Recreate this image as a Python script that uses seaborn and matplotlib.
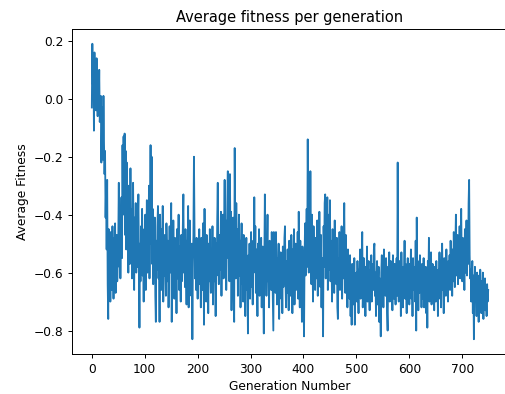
import numpy as np
import pandas as pd
import seaborn as sns
import matplotlib.pyplot as plt

# Average fitness, 25 generations per row
fitness = [
    -0.03, 0.19, 0.05, 0.15, -0.11, 0.16, 0.02, 0.12, -0.04, 0.14, 0.03, -0.06, 0.08, -0.02, 0.10, -0.08, -0.05, 0.01, -0.22, -0.10, -0.03, -0.21, 0.01, -0.15, -0.26,
    -0.18, -0.41, -0.30, -0.52, -0.28, -0.64, -0.76, -0.45, -0.62, -0.50, -0.70, -0.46, -0.58, -0.66, -0.44, -0.55, -0.69, -0.48, -0.60, -0.43, -0.67, -0.52, -0.47, -0.63, -0.56,
    -0.49, -0.29, -0.58, -0.38, -0.62, -0.45, -0.34, -0.55, -0.16, -0.40, -0.13, -0.28, -0.12, -0.47, -0.18, -0.52, -0.22, -0.35, -0.48, -0.60, -0.30, -0.44, -0.57, -0.24, -0.50,
    -0.38, -0.62, -0.45, -0.29, -0.55, -0.66, -0.41, -0.52, -0.36, -0.60, -0.47, -0.58, -0.42, -0.33, -0.54, -0.79, -0.50, -0.63, -0.44, -0.57, -0.38, -0.61, -0.49, -0.70, -0.45,
    -0.58, -0.40, -0.66, -0.52, -0.35, -0.60, -0.47, -0.55, -0.30, -0.62, -0.42, -0.16, -0.50, -0.20, -0.57, -0.38, -0.64, -0.45, -0.53, -0.41, -0.68, -0.77, -0.49, -0.59, -0.44,
    -0.37, -0.62, -0.51, -0.77, -0.40, -0.58, -0.66, -0.45, -0.55, -0.37, -0.70, -0.52, -0.61, -0.47, -0.57, -0.68, -0.43, -0.54, -0.63, -0.49, -0.72, -0.56, -0.44, -0.60, -0.51,
    -0.36, -0.77, -0.55, -0.64, -0.42, -0.58, -0.69, -0.48, -0.60, -0.53, -0.74, -0.45, -0.62, -0.56, -0.40, -0.66, -0.51, -0.59, -0.70, -0.47, -0.63, -0.55, -0.44, -0.33, -0.60,
    -0.52, -0.65, -0.45, -0.58, -0.71, -0.49, -0.61, -0.37, -0.72, -0.54, -0.42, -0.63, -0.57, -0.68, -0.50, -0.83, -0.56, -0.47, -0.20, -0.44, -0.62, -0.53, -0.66, -0.48, -0.58,
    -0.69, -0.51, -0.60, -0.45, -0.64, -0.55, -0.72, -0.48, -0.59, -0.66, -0.43, -0.57, -0.78, -0.38, -0.62, -0.53, -0.70, -0.47, -0.61, -0.56, -0.74, -0.50, -0.63, -0.45, -0.58,
    -0.67, -0.52, -0.60, -0.44, -0.71, -0.55, -0.63, -0.48, -0.58, -0.75, -0.50, -0.61, -0.42, -0.29, -0.56, -0.64, -0.47, -0.59, -0.53, -0.39, -0.68, -0.45, -0.57, -0.40, -0.62,
    -0.48, -0.28, -0.60, -0.42, -0.66, -0.51, -0.37, -0.25, -0.55, -0.44, -0.63, -0.26, -0.52, -0.39, -0.73, -0.47, -0.58, -0.41, -0.65, -0.77, -0.17, -0.50, -0.62, -0.36, -0.57,
    -0.45, -0.68, -0.53, -0.40, -0.61, -0.49, -0.72, -0.55, -0.43, -0.64, -0.58, -0.70, -0.47, -0.60, -0.52, -0.75, -0.56, -0.48, -0.66, -0.59, -0.81, -0.54, -0.62, -0.50, -0.69,
    -0.57, -0.46, -0.65, -0.53, -0.71, -0.49, -0.60, -0.34, -0.58, -0.44, -0.67, -0.52, -0.62, -0.75, -0.50, -0.59, -0.45, -0.68, -0.55, -0.63, -0.48, -0.72, -0.57, -0.51, -0.66,
    -0.81, -0.55, -0.33, -0.60, -0.47, -0.68, -0.52, -0.40, -0.63, -0.57, -0.72, -0.49, -0.61, -0.54, -0.66, -0.46, -0.58, -0.70, -0.80, -0.46, -0.62, -0.52, -0.67, -0.46, -0.59,
    -0.71, -0.55, -0.64, -0.50, -0.76, -0.58, -0.62, -0.53, -0.69, -0.57, -0.74, -0.51, -0.65, -0.60, -0.48, -0.44, -0.63, -0.72, -0.56, -0.67, -0.52, -0.60, -0.73, -0.49, -0.64,
    -0.55, -0.68, -0.47, -0.60, -0.74, -0.52, -0.63, -0.45, -0.71, -0.57, -0.50, -0.66, -0.54, -0.61, -0.46, -0.69, -0.39, -0.58, -0.72, -0.49, -0.64, -0.56, -0.77, -0.51, -0.60,
    -0.67, -0.82, -0.55, -0.43, -0.61, -0.50, -0.38, -0.58, -0.14, -0.45, -0.60, -0.36, -0.52, -0.25, -0.47, -0.64, -0.40, -0.55, -0.70, -0.44, -0.59, -0.51, -0.66, -0.48, -0.62,
    -0.54, -0.42, -0.68, -0.50, -0.61, -0.39, -0.57, -0.65, -0.47, -0.72, -0.55, -0.60, -0.82, -0.44, -0.58, -0.36, -0.33, -0.62, -0.48, -0.55, -0.34, -0.66, -0.51, -0.40, -0.59,
    -0.35, -0.63, -0.49, -0.57, -0.70, -0.45, -0.60, -0.53, -0.67, -0.42, -0.58, -0.51, -0.64, -0.48, -0.72, -0.76, -0.55, -0.61, -0.46, -0.66, -0.53, -0.59, -0.44, -0.69, -0.56,
    -0.62, -0.50, -0.36, -0.58, -0.67, -0.47, -0.61, -0.55, -0.72, -0.52, -0.64, -0.58, -0.69, -0.54, -0.75, -0.60, -0.78, -0.57, -0.66, -0.62, -0.71, -0.55, -0.78, -0.63, -0.68,
    -0.60, -0.70, -0.56, -0.66, -0.74, -0.59, -0.64, -0.52, -0.69, -0.61, -0.57, -0.46, -0.72, -0.63, -0.55, -0.68, -0.60, -0.75, -0.58, -0.65, -0.51, -0.70, -0.62, -0.56, -0.67,
    -0.73, -0.59, -0.64, -0.54, -0.70, -0.61, -0.57, -0.66, -0.52, -0.50, -0.68, -0.60, -0.75, -0.63, -0.56, -0.71, -0.65, -0.58, -0.77, -0.62, -0.69, -0.82, -0.60, -0.54, -0.66,
    -0.57, -0.72, -0.52, -0.64, -0.59, -0.68, -0.55, -0.61, -0.74, -0.80, -0.58, -0.66, -0.53, -0.70, -0.62, -0.56, -0.67, -0.60, -0.73, -0.54, -0.63, -0.69, -0.57, -0.65, -0.71,
    -0.60, -0.55, -0.68, -0.22, -0.62, -0.70, -0.56, -0.64, -0.59, -0.75, -0.53, -0.66, -0.61, -0.72, -0.58, -0.63, -0.49, -0.69, -0.57, -0.65, -0.74, -0.60, -0.55, -0.68, -0.62,
    -0.71, -0.57, -0.64, -0.52, -0.69, -0.60, -0.75, -0.55, -0.66, -0.58, -0.63, -0.70, -0.49, -0.80, -0.41, -0.62, -0.56, -0.73, -0.59, -0.67, -0.54, -0.65, -0.60, -0.72, -0.57,
    -0.63, -0.69, -0.55, -0.72, -0.60, -0.66, -0.58, -0.74, -0.62, -0.79, -0.56, -0.64, -0.48, -0.70, -0.59, -0.67, -0.53, -0.71, -0.61, -0.57, -0.68, -0.64, -0.73, -0.58, -0.65,
    -0.70, -0.56, -0.67, -0.61, -0.75, -0.59, -0.64, -0.53, -0.69, -0.62, -0.72, -0.57, -0.50, -0.66, -0.60, -0.74, -0.55, -0.63, -0.58, -0.68, -0.52, -0.65, -0.61, -0.70, -0.56,
    -0.62, -0.54, -0.66, -0.49, -0.60, -0.57, -0.68, -0.52, -0.63, -0.46, -0.58, -0.65, -0.51, -0.40, -0.61, -0.55, -0.47, -0.64, -0.53, -0.59, -0.44, -0.62, -0.50, -0.38, -0.56,
    -0.63, -0.48, -0.58, -0.52, -0.66, -0.45, -0.60, -0.55, -0.42, -0.61, -0.50, -0.57, -0.36, -0.28, -0.54, -0.62, -0.59, -0.70, -0.64, -0.56, -0.74, -0.61, -0.83, -0.66, -0.58,
    -0.70, -0.62, -0.75, -0.60, -0.68, -0.64, -0.77, -0.61, -0.72, -0.59, -0.66, -0.74, -0.63, -0.69, -0.60, -0.76, -0.65, -0.71, -0.62, -0.73, -0.67, -0.75, -0.64, -0.70, -0.66,
]
generation = np.arange(len(fitness))

df = pd.DataFrame({"Generation": generation, "Fitness": fitness})

# Figure (keep classic matplotlib look)
fig = plt.figure(figsize=(505 / 88, 394 / 88), dpi=88)
ax = fig.add_axes([72 / 505, 40 / 394, 436 / 505, 325 / 394])

sns.lineplot(data=df, x="Generation", y="Fitness", color="#1f77b4",
             linewidth=1.5, ax=ax)

ax.set_title("Average fitness per generation")
ax.set_xlabel("Generation Number")
ax.set_ylabel("Average Fitness")
ax.set_xticks([0, 100, 200, 300, 400, 500, 600, 700])
ax.set_yticks([-0.8, -0.6, -0.4, -0.2, 0.0, 0.2])

fig.savefig("out.png", dpi=88)
